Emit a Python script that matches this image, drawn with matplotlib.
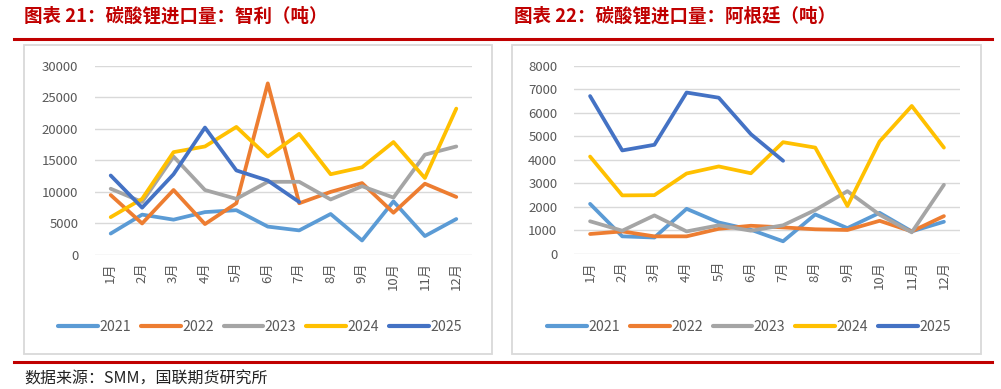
import matplotlib
matplotlib.use('Agg')
import matplotlib.pyplot as plt
from matplotlib.patches import Rectangle
from matplotlib.lines import Line2D

plt.rcParams['font.family'] = ['Noto Sans CJK SC', 'DejaVu Sans']

months = [f'{i}月' for i in range(1, 13)]
years = ['2021', '2022', '2023', '2024', '2025']
colors = ['#5B9BD5', '#ED7D31', '#A5A5A5', '#FFC000', '#4472C4']

# 智利 (吨)
chile_2021 = [3400, 6400, 5600, 6800, 7100, 4500, 3900, 6500, 2300, 8500, 3000, 5700]
chile_2022 = [9500, 5000, 10300, 4900, 8200, 27200, 8200, 10000, 11400, 6700, 11300, 9200]
chile_2023 = [10500, 8400, 15600, 10300, 8900, 11600, 11600, 8800, 10900, 9100, 15900, 17200]
chile_2024 = [6000, 8900, 16300, 17200, 20300, 15600, 19200, 12800, 13900, 17900, 12200, 23200]
chile_2025 = [12600, 7500, 12800, 20200, 13400, 11800, 8400]

# 阿根廷 (吨)
arg_2021 = [2130, 750, 700, 1920, 1340, 1030, 540, 1680, 1100, 1750, 960, 1370]
arg_2022 = [850, 960, 750, 750, 1070, 1200, 1130, 1050, 1020, 1410, 960, 1610]
arg_2023 = [1390, 990, 1640, 960, 1220, 990, 1220, 1870, 2670, 1670, 920, 2940]
arg_2024 = [4140, 2490, 2500, 3420, 3720, 3430, 4750, 4520, 2040, 4780, 6290, 4520]
arg_2025 = [6710, 4400, 4640, 6860, 6640, 5090, 3960]

W, H = 1001, 389
fig = plt.figure(figsize=(W / 100, H / 100), dpi=100)


def fx(px):
    return px / W


def fy(py):
    return 1 - py / H


red = '#C00000'
tick_color = '#595959'
grid_color = '#D9D9D9'

# red rules and titles
for y in (39, 362):
    fig.add_artist(Line2D([fx(14), fx(992)], [fy(y), fy(y)], color=red, lw=2.2))
fig.text(fx(24), fy(16), '图表 21：碳酸锂进口量：智利（吨）', color=red,
         fontsize=13.3, fontweight='bold', va='center', ha='left')
fig.text(fx(514), fy(16), '图表 22：碳酸锂进口量：阿根廷（吨）', color=red,
         fontsize=13.3, fontweight='bold', va='center', ha='left')
fig.text(fx(24), fy(379), '数据来源：SMM，国联期货研究所', color='#222222',
         fontsize=11.5, va='center', ha='left')

# chart frames
for x0, x1 in ((24, 492), (512, 981)):
    fig.add_artist(Rectangle((fx(x0), fy(354)), fx(x1 - x0), (354 - 45) / H,
                             transform=fig.transFigure, fill=False,
                             edgecolor='#D9D9D9', lw=1.3))


def draw(ax, series, ymax, step):
    for vals, c, name in zip(series, colors, years):
        ax.plot(range(len(vals)), vals, color=c, lw=2.7, label=name,
                solid_capstyle='round', solid_joinstyle='round')
    ax.set_xlim(-0.5, 11.5)
    ax.set_ylim(0, ymax)
    ax.set_yticks(range(0, ymax + 1, step))
    ax.set_xticks(range(12))
    ax.set_xticklabels(months, rotation=90)
    ax.grid(axis='y', color=grid_color, lw=1)
    ax.set_axisbelow(True)
    for s in ax.spines.values():
        s.set_visible(False)
    ax.tick_params(length=0, colors=tick_color, labelsize=9.5)
    ax.tick_params(axis='y', pad=12)
    ax.tick_params(axis='x', pad=5)


ax1 = fig.add_axes([fx(95), fy(255), fx(472 - 95), (255 - 65.7) / H])
draw(ax1, [chile_2021, chile_2022, chile_2023, chile_2024, chile_2025], 30000, 5000)
ax2 = fig.add_axes([fx(574), fy(254), fx(960 - 574), (254 - 65.7) / H])
draw(ax2, [arg_2021, arg_2022, arg_2023, arg_2024, arg_2025], 8000, 1000)

for ax, cx in ((ax1, 260), (ax2, 749)):
    leg = ax.legend(loc='center', bbox_to_anchor=(fx(cx), fy(327)),
                    bbox_transform=fig.transFigure, ncol=5, frameon=False,
                    fontsize=10.2, handlelength=2.8, handletextpad=0.1,
                    columnspacing=0.7, borderaxespad=0)
    for t in leg.get_texts():
        t.set_color(tick_color)
    for h in leg.get_lines():
        h.set_linewidth(3)

fig.savefig('out.png', dpi=100)
